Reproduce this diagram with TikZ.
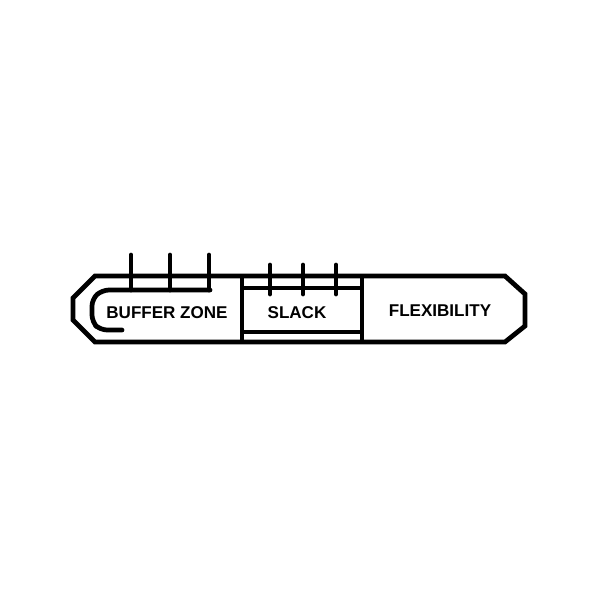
\documentclass[tikz,border=0pt]{standalone}
\usepackage{fontspec}
\setmainfont{Liberation Sans}
\begin{document}
\begin{tikzpicture}[x=0.02cm, y=-0.02cm, line join=miter, line width=2.7pt, font=\bfseries\fontsize{9.7}{11}\selectfont]
			\tikzset{tick/.style={line cap=round}}
			\useasboundingbox (0,0) rectangle (600,600);
			% outer band
			\draw (95,276)--(505,276)--(525,294)--(525,326)--(505,342)--(95,342)--(73,320)--(73,298)--cycle;
			% buffer zone clip
			\draw[rounded corners=4pt, line cap=round] (122,330)--(100,330)--(92,322)--(92,299)--(102,290)--(210,290);
			\foreach \x in {131,170,209} \draw[tick] (\x,255)--(\x,290);
			% slack box
			\draw (242,276)--(242,342);
			\draw (362,276)--(362,342);
			\draw (242,288)--(362,288);
			\draw (242,332)--(362,332);
			\foreach \x in {270,303,336} \draw[tick] (\x,265)--(\x,294);
			\node (buffer) at (167,313) {BUFFER ZONE};
			\node (slack) at (297,313) {SLACK};
			\node (flex) at (440,311) {FLEXIBILITY};
		\end{tikzpicture}
\end{document}
